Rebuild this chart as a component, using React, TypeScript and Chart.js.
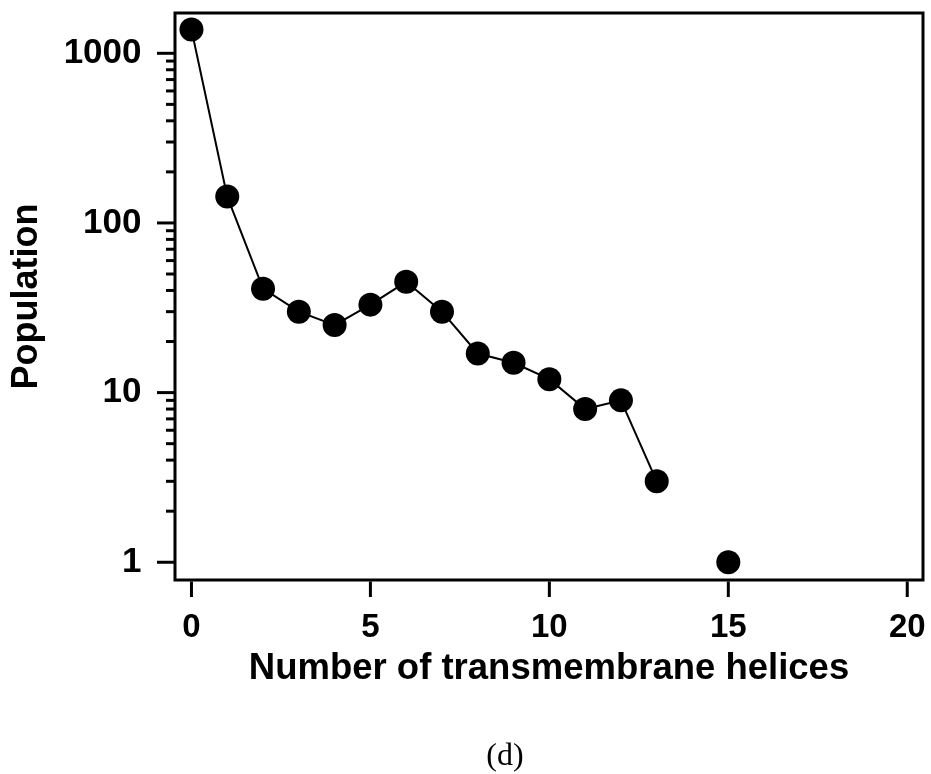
import React, { useEffect, useRef } from 'react';
import { Chart, registerables } from 'chart.js';

Chart.register(...registerables);

// ---- data ----
const helices = [0, 1, 2, 3, 4, 5, 6, 7, 8, 9, 10, 11, 12, 13, 14, 15];
const population: (number | null)[] = [1380, 143, 41, 30, 25, 33, 45, 30, 17, 15, 12, 8, 9, 3, null, 1];
const xTickValues = [0, 5, 10, 15, 20];
const yMajorTicks = [1, 10, 100, 1000];
const yMinorTicks = [2, 3, 4, 5, 6, 7, 8, 9, 20, 30, 40, 50, 60, 70, 80, 90, 200, 300, 400, 500, 600, 700, 800, 900];
const xTitle = 'Number of transmembrane helices';
const yTitle = 'Population';
const caption = '(d)';

const W = 931;
const H = 774;

const framePlugin = {
  id: 'frameTicks',
  afterDraw(chart: any) {
    const { ctx, chartArea } = chart;
    const { left, right, top, bottom } = chartArea;
    const xs = chart.scales.x;
    const ys = chart.scales.y;
    ctx.save();
    ctx.strokeStyle = '#000';
    ctx.lineWidth = 3;
    ctx.lineCap = 'butt';
    ctx.strokeRect(left, top, right - left, bottom - top);
    const drawY = (v: number, len: number) => {
      const p = ys.getPixelForValue(v);
      ctx.beginPath();
      ctx.moveTo(left - len, p);
      ctx.lineTo(left, p);
      ctx.stroke();
    };
    yMajorTicks.forEach((v) => drawY(v, 18));
    yMinorTicks.forEach((v) => drawY(v, 9));
    xTickValues.forEach((v) => {
      const p = xs.getPixelForValue(v);
      ctx.beginPath();
      ctx.moveTo(p, bottom + 1.5);
      ctx.lineTo(p, bottom + 17);
      ctx.stroke();
    });
    ctx.restore();
  },
};

const zeroPad = (scale: any) => {
  scale.paddingTop = 0;
  scale.paddingBottom = 0;
  scale.paddingLeft = 0;
  scale.paddingRight = 0;
};

export default function App() {
  const ref = useRef<HTMLCanvasElement | null>(null);

  useEffect(() => {
    const canvas = ref.current;
    if (!canvas) return;
    const chart = new Chart(canvas, {
      type: 'line',
      data: {
        datasets: [
          {
            data: helices.map((h, i) => ({ x: h, y: population[i] as any })),
            borderColor: '#000',
            borderWidth: 2,
            backgroundColor: '#000',
            pointBackgroundColor: '#000',
            pointBorderColor: '#000',
            pointRadius: 12,
            pointBorderWidth: 0,
            spanGaps: false,
            tension: 0,
            clip: false as any,
          },
        ],
      },
      options: {
        animation: false,
        responsive: false,
        devicePixelRatio: 1,
        layout: { autoPadding: false, padding: { left: 0, top: 13, right: 8, bottom: 0 } },
        plugins: {
          legend: { display: false },
          tooltip: { enabled: false },
        },
        scales: {
          x: {
            type: 'linear',
            position: 'bottom',
            min: -0.46,
            max: 20.44,
            afterBuildTicks: (scale: any) => {
              scale.ticks = xTickValues.map((v) => ({ value: v }));
            },
            afterFit: (scale: any) => {
              scale.height = H - 580;
              zeroPad(scale);
            },
            ticks: {
              color: '#000',
              padding: 28,
              maxRotation: 0,
              font: { family: '"Liberation Sans", Arial, sans-serif', size: 33, weight: 'bold' },
              callback: (v: any) => String(v),
            },
            grid: { display: false, drawTicks: false },
            border: { display: false },
            title: {
              display: true,
              text: xTitle,
              color: '#000',
              font: { family: '"Liberation Sans", Arial, sans-serif', size: 36.5, weight: 'bold' },
              padding: { top: 0, bottom: 83 },
            },
          },
          y: {
            type: 'logarithmic',
            position: 'left',
            min: 0.786,
            max: 1728,
            afterBuildTicks: (scale: any) => {
              scale.ticks = [...yMajorTicks, ...yMinorTicks]
                .sort((a, b) => a - b)
                .map((v) => ({ value: v, major: yMajorTicks.includes(v) }));
            },
            afterFit: (scale: any) => {
              scale.width = 175;
              zeroPad(scale);
            },
            ticks: {
              color: '#000',
              padding: 33.5,
              autoSkip: false,
              font: { family: '"Liberation Sans", Arial, sans-serif', size: 35, weight: 'bold' },
              callback: (v: any) => (yMajorTicks.includes(Number(v)) ? String(v) : ''),
            },
            grid: { display: false, drawTicks: false },
            border: { display: false },
            title: {
              display: true,
              text: yTitle,
              color: '#000',
              font: { family: '"Liberation Sans", Arial, sans-serif', size: 36, weight: 'bold' },
              padding: { top: 5, bottom: 0 },
            },
          },
        },
      },
      plugins: [framePlugin],
    } as any);
    return () => chart.destroy();
  }, []);

  return (
    <div style={{ position: 'absolute', left: 0, top: 0, width: W, height: H, background: '#fff' }}>
      <canvas ref={ref} width={W} height={H} style={{ display: 'block', width: W, height: H }} />
      <div
        style={{
          position: 'absolute',
          left: 0,
          width: 1010,
          top: 734,
          textAlign: 'center',
          fontFamily: '"Liberation Serif", "Times New Roman", serif',
          fontSize: 32,
          lineHeight: '40px',
          color: '#000',
        }}
      >
        {caption}
      </div>
    </div>
  );
}
